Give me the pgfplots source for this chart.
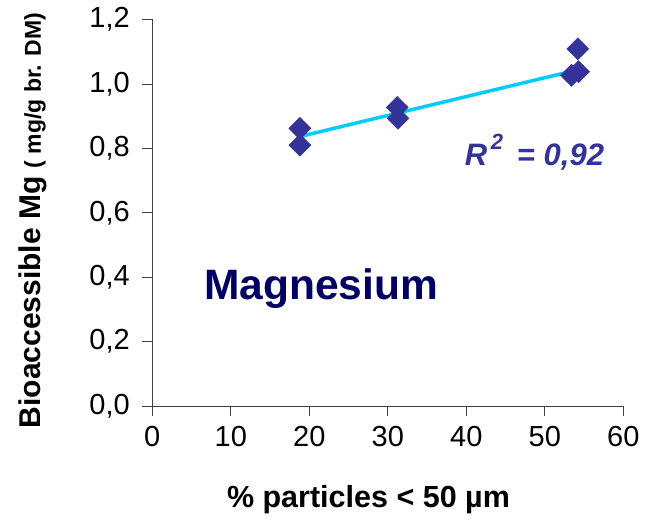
\documentclass[border=0pt]{standalone}
\usepackage{pgfplots}
\pgfplotsset{compat=1.18}
\usepackage{fontspec}
\setmainfont{Liberation Sans}
\definecolor{mk}{RGB}{51,51,153}
\definecolor{trend}{RGB}{0,204,255}
\definecolor{navy}{RGB}{0,0,102}
\begin{document}
\begin{tikzpicture}
\useasboundingbox (0,0) rectangle (659pt,524pt);
\begin{axis}[
  at={(152.3pt,118pt)}, anchor=origin,
  scale only axis, width=471pt, height=386.5pt,
  xmin=0, xmax=60, ymin=0, ymax=1.2,
  axis lines*=left,
  axis line style={black!75, line width=0.8pt},
  tick style={black!75, line width=0.8pt},
  tick align=outside, major tick length=10pt,
  xtick={0,10,...,60}, ytick={0,0.2,...,1.2},
  /pgf/number format/assume math mode=true,
  yticklabel style={/pgf/number format/.cd, use comma, fixed, fixed zerofill, precision=1},
  xticklabel style={/pgf/number format/.cd, fixed},
  ticklabel style={font=\fontsize{29}{31}\selectfont},
  xticklabel shift=7pt, yticklabel shift=9pt,
  clip=false,
]
\addplot[only marks, mark=square*, mark size=7.8pt, mark options={rotate=45, fill=mk, draw=mk}] coordinates {
 (18.8,0.862) (18.8,0.810) (31.2,0.927) (31.3,0.893) (54.2,1.109) (54.3,1.038) (53.4,1.027)
};
\addplot[trend, line width=3.5pt] coordinates {(18.7,0.836) (54.4,1.045)};
\node[anchor=base, text=navy, font=\bfseries\fontsize{42.5}{44}\selectfont] at (axis cs:21.5,0.331) {Magnesium};
\node[anchor=base west, inner sep=0pt, text=mk, font=\bfseries\itshape\fontsize{31}{33}\selectfont] at (axis cs:39.8,0.748) {R\raisebox{0.5em}{\fontsize{22}{24}\selectfont\,2}\ \,= 0,92};
\node[anchor=center, font=\bfseries\fontsize{30.5}{32}\selectfont] at (rel axis cs:0.459,-0.243) {\% particles < 50 µm};
\node[anchor=center, rotate=90, font=\bfseries\fontsize{30}{32}\selectfont] at (rel axis cs:-0.253,0.48) {Bioaccessible Mg {\fontsize{23}{25}\selectfont( mg/g br. DM)}};
\end{axis}
\end{tikzpicture}
\end{document}
